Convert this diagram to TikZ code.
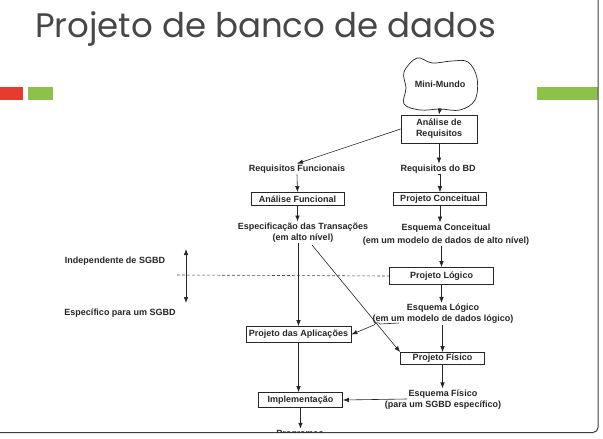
\documentclass[tikz,border=0pt]{standalone}
\usepackage{fontspec}
\setmainfont{Liberation Sans}
\newfontfamily\titlefont{Poppins}
\usepackage{tikz}
\usetikzlibrary{arrows,arrows.meta,shapes}
\usetikzlibrary{calc}
\definecolor{slidered}{HTML}{E63B2E}
\definecolor{slidegreen}{HTML}{8CC24A}
\definecolor{titlegray}{HTML}{474747}
\definecolor{inkgray}{HTML}{262626}
\newcommand{\diagfont}{\fontsize{9}{11.2}\selectfont\bfseries}
\tikzstyle{phase}=[draw=inkgray,line width=0.7pt,inner sep=1pt,font=\diagfont,text=inkgray,align=center]
\tikzstyle{result}=[inner sep=1pt,font=\diagfont,text=inkgray,align=center]
\tikzstyle{flow}=[-{Latex[length=6pt,width=4.5pt]},line width=0.6pt,draw=inkgray]

\begin{document}
\begin{tikzpicture}[x=1pt,y=-1pt]
   \useasboundingbox (0,0) rectangle (603,439);
   \fill[white] (0,0) rectangle (603,439);

   % slide decoration
   \node[anchor=base west,font=\titlefont\fontsize{34}{34}\selectfont,text=titlegray,inner sep=0pt] (title) at (35,37) {Projeto de banco de dados};
   \fill[slidered] (0,87) rectangle (23,100);
   \fill[slidegreen] (28,87) rectangle (53,100);
   \fill[slidegreen] (537,87) rectangle (598,100);
   \draw[line width=1pt,black!75,rounded corners=5pt] (0,432.5) -- (598,432.5) -- (598,0);

   \begin{scope}
   \clip (0,0) rectangle (597.5,432);

   % mini-mundo cloud
   \draw[inkgray,line width=0.7pt] plot[smooth cycle,tension=0.6] coordinates {(417,58) (432,63) (452,61) (468,62) (477,78) (475,100) (460,110) (440,109) (420,110) (404,104) (406,88) (404,72)};
   \node[minimum width=70pt,minimum height=48pt,inner sep=0pt,font=\diagfont,text=inkgray] (miniMundo) at (440,84) {Mini-Mundo};

    \foreach \pos/ \name / \label / \w / \h in {{(439,129)/analise/An\'alise de\\Requisitos/76/28},
        {(297.5,199)/funcional/An\'alise Funcional/93/13}, {(440,199)/conceitual/Projeto Conceitual/93/13},
        {(441.5,276)/logico/Projeto L\'ogico/104/17}, {(298.5,334.5)/aplicacoes/Projeto das Aplica\c{c}\~oes/105/16},
        {(442.5,358.5)/fisico/Projeto F\'isico/84/12}, {(300.5,400)/implementacao/Implementa\c{c}\~ao/84/15}}
        \node[phase,minimum width=\w pt,minimum height=\h pt] (\name) at \pos {\label};

    \foreach \pos/ \name / \label in {{(297,169)/reqFunc/Requisitos Funcionais}, {(438,169)/reqBD/Requisitos do BD},
        {(303,232.5)/especificacao/Especifica\c{c}\~ao das Transa\c{c}\~oes\\(em alto n\'ivel)},
        {(446,234.5)/esqConceitual/Esquema Conceitual\\[2pt](em um modelo de dados de alto n\'ivel)},
        {(443,314)/esqLogico/Esquema L\'ogico\\(em um modelo de dados l\'ogico)},
        {(443,399.5)/esqFisico/Esquema F\'isico\\(para um SGBD espec\'ifico)},
        {(115,261)/independente/Independente de SGBD}, {(120,313)/especifico/Espec\'ifico para um SGBD},
        {(300,434)/programas/Programas}}
        \node[result] (\name) at \pos {\label};

   \coordinate (niveisTop) at (186,249);
   \coordinate (niveisBot) at (186,303);
   \coordinate (divisa) at (177,275);
   \coordinate (transDiag) at (312,245);
   \coordinate (logicoHop) at (399,323);
   \coordinate (fisicoLeft) at (407,399);

   \draw[flow] (miniMundo.south) -- (analise.north);
   \draw[flow] (analise.west) -- (reqFunc.north);
   \draw[flow] (analise.south) -- (analise.south |- reqBD.north);
   \draw[flow] (reqFunc.south) -- (funcional.north);
   \draw[flow] (reqBD.south) -- (reqBD.south -| conceitual.north) -- (conceitual.north);
   \draw[flow] (funcional.south) -- (funcional.south |- especificacao.north);
   \draw[flow] (conceitual.south) -- (conceitual.south |- esqConceitual.north);
   \draw[flow] (logico.north |- esqConceitual.south) -- (logico.north);
   \draw[flow] (logico.south) -- (logico.south |- esqLogico.north);
   \draw[flow] (fisico.north |- esqLogico.south) -- (fisico.north);
   \draw[flow] (fisico.south) -- (fisico.south |- esqFisico.north);
   \draw[flow] (aplicacoes.north |- especificacao.south) -- (aplicacoes.north);
   \draw[flow] (transDiag) -- (fisico.north west);
   \draw[flow] (logicoHop) -- ++(-19,1) to[out=110,in=70] ++(-6,1) -- (aplicacoes.east);
   \draw[flow] (fisicoLeft) -- (implementacao.east);
   \draw[flow] (aplicacoes.south) -- (aplicacoes.south |- implementacao.north);
   \draw[flow] (implementacao.south) -- (implementacao.south |- programas.north);

   \draw[{Latex[length=6pt,width=4.5pt]}-{Latex[length=6pt,width=4.5pt]},line width=0.6pt,draw=inkgray] (niveisTop) -- (niveisBot);
   \draw[densely dashed,line width=0.6pt,black!70] (divisa) -- (logico.west);
   \end{scope}
\end{tikzpicture}
\end{document}
